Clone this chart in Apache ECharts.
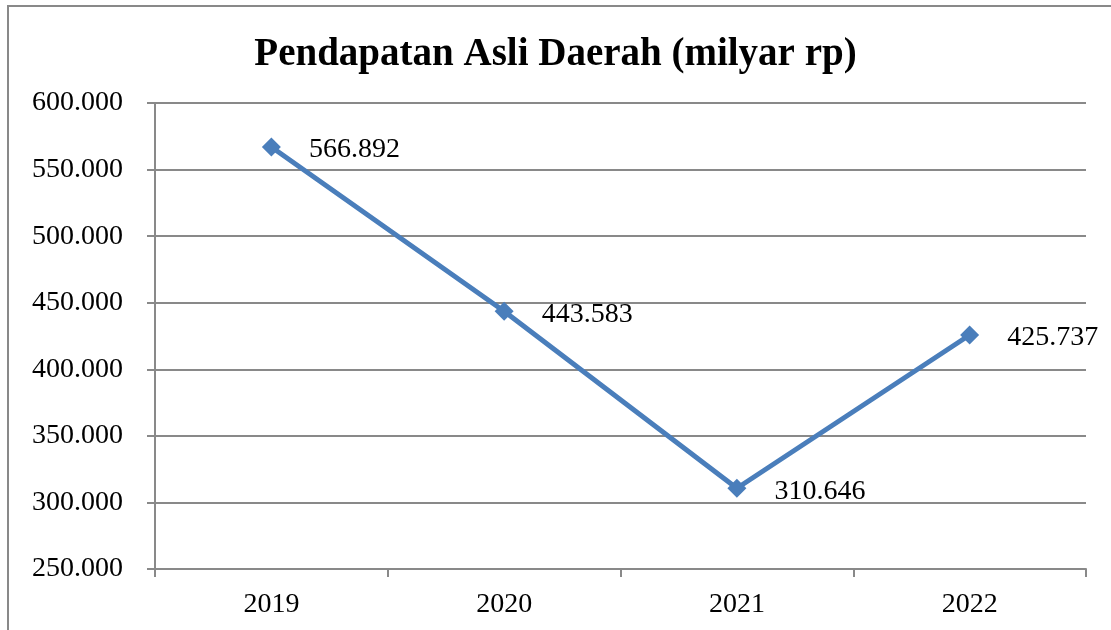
<!DOCTYPE html>
<html>
<head>
<meta charset="utf-8">
<script src="https://cdn.jsdelivr.net/npm/echarts@6/dist/echarts.min.js"></script>
<style>
  html, body { margin: 0; padding: 0; background: #fff; }
  #chart { width: 1111px; height: 630px; }
</style>
</head>
<body>
<div id="chart"></div>
<script>
const years = ["2019", "2020", "2021", "2022"];
const pad = [566892, 443583, 310646, 425737];
const yTicks = [250000, 600000, 50000]; // min, max, interval

const fmt = (v) => String(Math.round(v)).replace(/\B(?=(\d{3})+(?!\d))/g, ".");
const font = "'Liberation Serif', 'DejaVu Serif', serif";
const gray = "#898989";

const chart = echarts.init(document.getElementById("chart"));
chart.setOption({
  animation: false,
  backgroundColor: "#fff",
  title: {
    text: "Pendapatan Asli Daerah (milyar rp)",
    left: "center",
    top: 30,
    textStyle: { fontFamily: font, fontWeight: "bold", fontSize: 39, color: "#000" },
  },
  graphic: [
    {
      type: "rect",
      shape: { x: 8, y: 6, width: 1300, height: 800 },
      style: { fill: "none", stroke: gray, lineWidth: 2 },
      silent: true,
    },
  ],
  grid: { left: 155, right: 25, top: 103, bottom: 61, containLabel: false },
  xAxis: {
    type: "category",
    data: years,
    boundaryGap: true,
    axisLine: { lineStyle: { color: gray, width: 2 } },
    axisTick: { show: true, length: 8, lineStyle: { color: gray, width: 2 } },
    axisLabel: { color: "#000", fontFamily: font, fontSize: 28, margin: 22 },
  },
  yAxis: {
    type: "value",
    min: yTicks[0],
    max: yTicks[1],
    interval: yTicks[2],
    axisLine: { show: true, lineStyle: { color: gray, width: 2 } },
    axisTick: { show: true, length: 8, lineStyle: { color: gray, width: 2 } },
    splitLine: { lineStyle: { color: gray, width: 2 } },
    axisLabel: { color: "#000", fontFamily: font, fontSize: 28, margin: 32, formatter: fmt },
  },
  series: [
    {
      type: "line",
      data: pad,
      symbol: "diamond",
      symbolSize: 19,
      lineStyle: { color: "#4A7EBB", width: 5 },
      itemStyle: { color: "#4A7EBB" },
      label: {
        show: true,
        position: "right",
        distance: 28,
        offset: [0, 3],
        color: "#000",
        fontFamily: font,
        fontSize: 28,
        formatter: (p) => fmt(p.value),
      },
    },
  ],
});
</script>
</body>
</html>
